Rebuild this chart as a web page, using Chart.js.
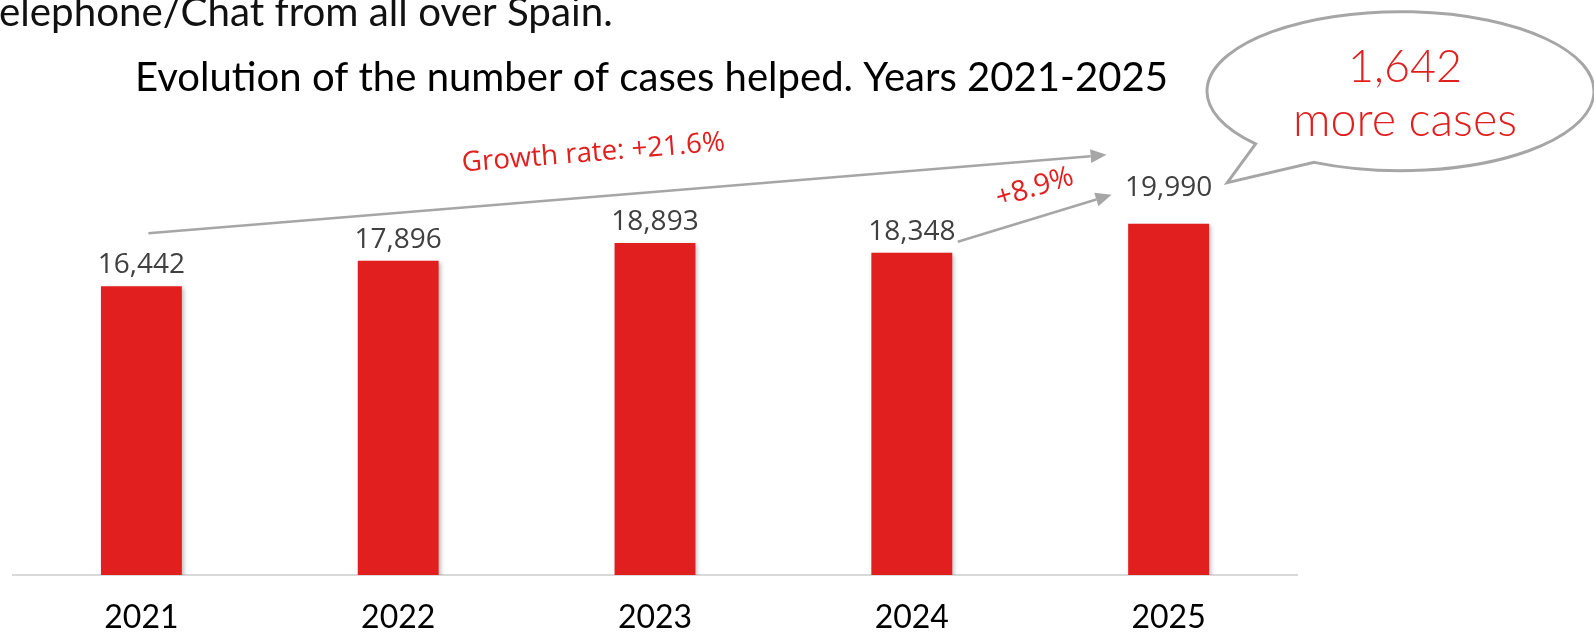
<!DOCTYPE html>
<html>
<head>
<meta charset="utf-8">
<script src="https://cdn.jsdelivr.net/npm/chart.js@4/dist/chart.umd.min.js"></script>
<style>
  html, body { margin: 0; padding: 0; background: #fff; overflow: hidden; }
  #wrap { width: 1594px; height: 633px; position: relative; }
</style>
</head>
<body>
<div id="wrap"><canvas id="chart"></canvas></div>
<script>
const years = ['2021', '2022', '2023', '2024', '2025'];
const cases = [16442, 17896, 18893, 18348, 19990];
const introLine = 'elephone/Chat from all over Spain.';
const chartTitle = 'Evolution of the number of cases helped. Years 2021-2025';
const totalGrowth = 'Growth rate: +21.6%';
const lastGrowth = '+8.9%';
const bubbleLines = ['1,642', 'more cases'];

const red = '#e21f1f';
const grey = '#a6a6a6';

// font size that makes text fill a given width
const fitFont = (ctx, text, family, width, weight = 'normal') => {
  ctx.font = `${weight} 100px ${family}`;
  const size = 100 * width / ctx.measureText(text).width;
  return `${weight} ${size.toFixed(1)}px ${family}`;
};

const arrow = (ctx, x1, y1, x2, y2) => {
  const a = Math.atan2(y2 - y1, x2 - x1);
  const len = 16, half = 7;
  ctx.save();
  ctx.strokeStyle = grey;
  ctx.fillStyle = grey;
  ctx.lineWidth = 2.5;
  ctx.beginPath();
  ctx.moveTo(x1, y1);
  ctx.lineTo(x2 - len * Math.cos(a), y2 - len * Math.sin(a));
  ctx.stroke();
  ctx.beginPath();
  ctx.moveTo(x2, y2);
  ctx.lineTo(x2 - len * Math.cos(a) + half * Math.sin(a), y2 - len * Math.sin(a) - half * Math.cos(a));
  ctx.lineTo(x2 - len * Math.cos(a) - half * Math.sin(a), y2 - len * Math.sin(a) + half * Math.cos(a));
  ctx.closePath();
  ctx.fill();
  ctx.restore();
};

const rotatedText = (ctx, text, x, y, angle, font) => {
  ctx.save();
  ctx.translate(x, y);
  ctx.rotate(angle * Math.PI / 180);
  ctx.font = font;
  ctx.fillStyle = red;
  ctx.textAlign = 'center';
  ctx.textBaseline = 'middle';
  ctx.fillText(text, 0, 0);
  ctx.restore();
};

const extras = {
  id: 'extras',
  beforeDatasetsDraw(chart) {
    const ctx = chart.ctx;
    ctx.save();
    ctx.shadowColor = 'rgba(0,0,0,0.25)';
    ctx.shadowBlur = 4;
    ctx.shadowOffsetX = 2;
    ctx.shadowOffsetY = 2;
  },
  afterDatasetsDraw(chart) {
    const ctx = chart.ctx;
    ctx.restore();
    const bars = chart.getDatasetMeta(0).data;
    ctx.save();
    ctx.font = '28px "Open Sans"';
    ctx.fillStyle = '#404040';
    ctx.textAlign = 'center';
    ctx.textBaseline = 'alphabetic';
    bars.forEach((bar, i) => {
      const lift = i === bars.length - 1 ? 28 : 13;
      ctx.fillText(cases[i].toLocaleString('en-US'), bar.x, bar.y - lift);
    });
    ctx.restore();
  },
  afterDraw(chart) {
    const ctx = chart.ctx;
    const bars = chart.getDatasetMeta(0).data;
    const b0 = bars[0], b3 = bars[3], b4 = bars[4];

    ctx.save();
    ctx.fillStyle = '#111';
    ctx.textAlign = 'left';
    ctx.textBaseline = 'alphabetic';
    ctx.font = fitFont(ctx, introLine, 'Lato', 613);
    ctx.fillText(introLine, -1, 26);
    ctx.fillStyle = '#000';
    ctx.font = fitFont(ctx, chartTitle, 'Lato', 1034);
    ctx.fillText(chartTitle, 135, 90.5);
    ctx.restore();

    // growth arrows
    arrow(ctx, b0.x + 7, b0.y - 53, b4.x - 62, b4.y - 69);
    arrow(ctx, b3.x + 46, b3.y - 11, b4.x - 57, b4.y - 29);
    rotatedText(ctx, totalGrowth, b0.x + 452, b0.y - 133, -4.6, fitFont(ctx, totalGrowth, '"Open Sans"', 264));
    rotatedText(ctx, lastGrowth, b3.x + 123, b3.y - 65, -17, fitFont(ctx, lastGrowth, '"Open Sans"', 80));

    // speech bubble
    const cx = 1400.5, cy = 91.2, rx = 193.5, ry = 79.5;
    const t1 = Math.atan2((143.3 - cy) / ry, (1257.3 - cx) / rx);
    const t2 = Math.atan2((161.7 - cy) / ry, (1315 - cx) / rx);
    ctx.save();
    ctx.beginPath();
    ctx.ellipse(cx, cy, rx, ry, 0, t1, t2 + Math.PI * 2);
    ctx.lineTo(1227.3, 182.7);
    ctx.closePath();
    ctx.fillStyle = '#fff';
    ctx.fill();
    ctx.strokeStyle = grey;
    ctx.lineWidth = 3;
    ctx.lineJoin = 'miter';
    ctx.stroke();
    ctx.fillStyle = red;
    ctx.textAlign = 'center';
    ctx.textBaseline = 'alphabetic';
    ctx.font = fitFont(ctx, bubbleLines[0], 'Lato', 114, '300');
    ctx.fillText(bubbleLines[0], 1405, 82);
    ctx.font = fitFont(ctx, bubbleLines[1], 'Lato', 224, '300');
    ctx.fillText(bubbleLines[1], 1405, 136);
    ctx.restore();
  }
};

new Chart(document.getElementById('chart'), {
  type: 'bar',
  data: {
    labels: years,
    datasets: [{
      data: cases,
      backgroundColor: red,
      barPercentage: 0.315,
      categoryPercentage: 1
    }]
  },
  options: {
    responsive: true,
    maintainAspectRatio: false,
    animation: false,
    layout: { padding: { left: 13, right: 297, top: 48, bottom: 0 } },
    plugins: { legend: { display: false }, tooltip: { enabled: false } },
    scales: {
      x: {
        grid: { display: false, drawTicks: false },
        border: { display: true, color: '#d9d9d9', width: 2 },
        ticks: { color: '#000', padding: 23, font: { family: 'Lato', size: 32 } },
        afterFit: (s) => { s.height = 58; }
      },
      y: { display: false, min: 0, max: 30000 }
    }
  },
  plugins: [extras]
});
</script>
</body>
</html>
